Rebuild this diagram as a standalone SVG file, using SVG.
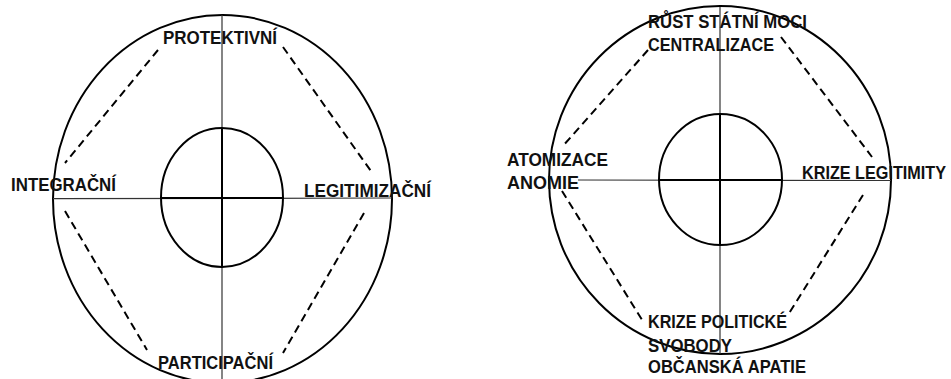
<svg xmlns="http://www.w3.org/2000/svg" width="951" height="379" viewBox="0 0 951 379">
<style>
.ring{fill:none;stroke:#000;stroke-width:2}
.axis{fill:none;stroke:#333;stroke-width:1.2}
.dash{fill:none;stroke:#000;stroke-width:2;stroke-dasharray:8 5}
.lbl{font-family:"Liberation Sans",Arial,sans-serif;font-weight:bold;font-size:18px;fill:#111}
</style>
<rect width="951" height="379" fill="#fff"/>
<g id="left-diagram">
  <ellipse class="ring" cx="222.5" cy="199" rx="169.5" ry="184"/>
  <line class="axis" x1="53" y1="198.7" x2="392" y2="198"/>
  <line class="axis" x1="222" y1="15" x2="222" y2="379"/>
  <ellipse class="ring" cx="222" cy="197.5" rx="61" ry="69.5"/>
  <line class="ring" x1="161" y1="198" x2="283" y2="198"/>
  <line class="ring" x1="222" y1="128" x2="222" y2="267"/>
</g>
<g id="left-connectors">
  <line class="dash" x1="158" y1="50" x2="65" y2="163"/>
  <line class="dash" x1="283" y1="47" x2="373" y2="174"/>
  <line class="dash" x1="65" y1="211" x2="147" y2="350"/>
  <line class="dash" x1="364" y1="213" x2="283" y2="353"/>
</g>
<g id="node-protektivni"><text class="lbl" x="163" y="44" textLength="114" lengthAdjust="spacingAndGlyphs">PROTEKTIVNÍ</text></g>
<g id="node-integracni"><text class="lbl" x="11" y="191" textLength="105" lengthAdjust="spacingAndGlyphs">INTEGRAČNÍ</text></g>
<g id="node-legitimizacni"><text class="lbl" x="304" y="197" textLength="127" lengthAdjust="spacingAndGlyphs">LEGITIMIZAČNÍ</text></g>
<g id="node-participacni"><text class="lbl" x="158" y="369" textLength="115" lengthAdjust="spacingAndGlyphs">PARTICIPAČNÍ</text></g>

<g id="right-diagram">
  <ellipse class="ring" cx="720" cy="180" rx="171" ry="174"/>
  <line class="axis" x1="578" y1="180" x2="891" y2="180.5"/>
  <line class="axis" x1="720" y1="7" x2="720" y2="354"/>
  <ellipse class="ring" cx="720.5" cy="179.5" rx="61.5" ry="65.5"/>
  <line class="ring" x1="659" y1="180" x2="782" y2="180"/>
  <line class="ring" x1="720" y1="114" x2="720" y2="245"/>
</g>
<g id="right-connectors">
  <line class="dash" x1="648" y1="50" x2="562" y2="147"/>
  <line class="dash" x1="781" y1="37" x2="872" y2="157"/>
  <line class="dash" x1="562" y1="191" x2="644" y2="323"/>
  <line class="dash" x1="863" y1="195" x2="788" y2="315"/>
</g>
<g id="node-rust">
  <text class="lbl" x="648" y="28" textLength="159" lengthAdjust="spacingAndGlyphs">RŮST STÁTNÍ MOCI</text>
  <text class="lbl" x="648" y="51" textLength="126" lengthAdjust="spacingAndGlyphs">CENTRALIZACE</text>
</g>
<g id="node-atomizace">
  <text class="lbl" x="507" y="166" textLength="101" lengthAdjust="spacingAndGlyphs">ATOMIZACE</text>
  <text class="lbl" x="507" y="189" textLength="72" lengthAdjust="spacingAndGlyphs">ANOMIE</text>
</g>
<g id="node-krize-legitimity"><text class="lbl" x="802" y="179" textLength="144" lengthAdjust="spacingAndGlyphs">KRIZE LEGITIMITY</text></g>
<g id="node-krize-politicke">
  <text class="lbl" x="648" y="328" textLength="139" lengthAdjust="spacingAndGlyphs">KRIZE POLITICKÉ</text>
  <text class="lbl" x="648" y="352" textLength="84" lengthAdjust="spacingAndGlyphs">SVOBODY</text>
  <text class="lbl" x="648" y="373" textLength="158" lengthAdjust="spacingAndGlyphs">OBČANSKÁ APATIE</text>
</g>
</svg>
